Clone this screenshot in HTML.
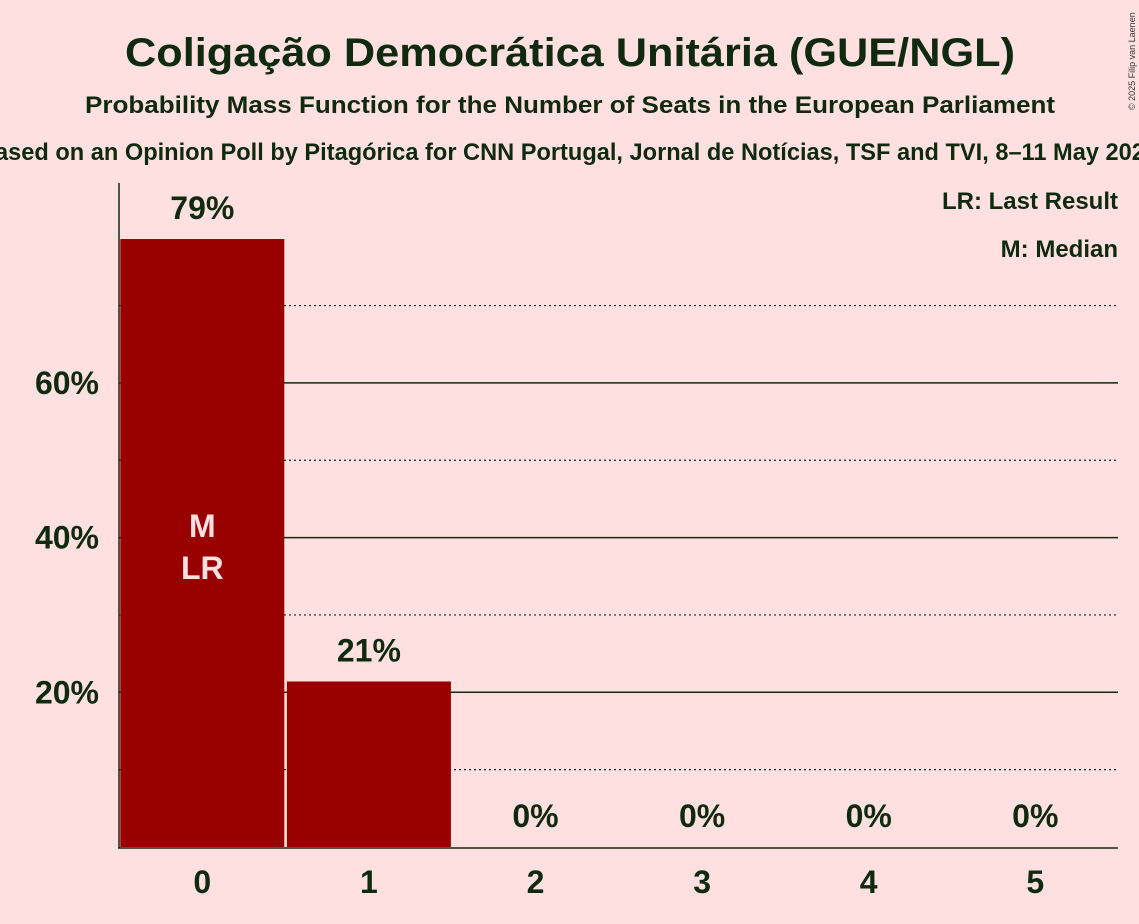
<!DOCTYPE html>
<html><head><meta charset="utf-8"><style>
html,body{margin:0;padding:0;background:#FFE0E0;}
svg{display:block;font-family:"Liberation Sans",sans-serif;font-weight:bold;}
</style></head><body>
<svg id="chart" width="1139" height="924" viewBox="0 0 1139 924">
<rect width="1139" height="924" fill="#FFE0E0"/>
<text x="570" y="66" text-anchor="middle" font-size="40" fill="#0f2a0f" textLength="890" lengthAdjust="spacingAndGlyphs">Coligação Democrática Unitária (GUE/NGL)</text>
<text x="570" y="113" text-anchor="middle" font-size="24" fill="#0f2a0f" textLength="970" lengthAdjust="spacingAndGlyphs">Probability Mass Function for the Number of Seats in the European Parliament</text>
<text x="568" y="160" text-anchor="middle" font-size="24" fill="#0f2a0f" textLength="1180" lengthAdjust="spacingAndGlyphs">Based on an Opinion Poll by Pitagórica for CNN Portugal, Jornal de Notícias, TSF and TVI, 8–11 May 2025</text>
<text x="1135" y="110" font-size="9" font-weight="normal" fill="#333" transform="rotate(-90 1135 110)">© 2025 Filip van Laenen</text>
<g id="grid"></g>
<g id="bars"></g>
<g id="labels"></g>
<line x1="119" y1="183" x2="119" y2="848" stroke="#0f2a0f" stroke-width="1.5"/>
<line x1="118" y1="848" x2="1118" y2="848" stroke="#0f2a0f" stroke-width="1.5"/>
<text x="1118" y="209" text-anchor="end" font-size="24" fill="#0f2a0f">LR: Last Result</text>
<text x="1118" y="257" text-anchor="end" font-size="24" fill="#0f2a0f">M: Median</text>
</svg>
<script>
const categories = [0, 1, 2, 3, 4, 5];
const probabilities = [78.6, 21.4, 0, 0, 0, 0];
const valueLabels = ["79%", "21%", "0%", "0%", "0%", "0%"];
const yTicks = [20, 40, 60];
const yTickLabels = ["20%", "40%", "60%"];
const yMinor = [10, 30, 50, 70];
const medianIndex = 0;
const lastResultIndex = 0;

const NS = "http://www.w3.org/2000/svg";
const y0 = 847, pxPer = 7.735, xLeft = 119, step = 166.6, xRight = 1118;
const y = v => y0 - v * pxPer;
const xc = i => xLeft + step * (i + 0.5);
function mk(tag, attrs, parent, txt) {
  const e = document.createElementNS(NS, tag);
  for (const k in attrs) e.setAttribute(k, attrs[k]);
  if (txt !== undefined) e.textContent = txt;
  document.getElementById(parent).appendChild(e);
  return e;
}
yMinor.forEach(v => {
  const l = mk("line", {x1: xLeft, x2: xRight, y1: y(v), y2: y(v), stroke: "#0f2a0f", "stroke-width": 1.2, "stroke-dasharray": "2,3"}, "grid");
  
  
});
yTicks.forEach((v, i) => {
  const l = mk("line", {x1: xLeft, x2: xRight, y1: y(v), y2: y(v), stroke: "#0f2a0f", "stroke-width": 1.5}, "grid");
  
  
  const t = mk("text", {x: 99, y: y(v) + 11, "text-anchor": "end", "font-size": 32, fill: "#0f2a0f"}, "labels", yTickLabels[i]);
  
  
});
categories.forEach((c, i) => {
  const p = probabilities[i];
  if (p > 0) {
    const r = mk("rect", {x: xc(i) - 82, y: y(p), width: 164, height: y0 - y(p), fill: "#990000"}, "bars");
    
    
  }
  const vl = mk("text", {x: xc(i), y: (p > 0 ? y(p) - 20 : y0 - 20), "text-anchor": "middle", "font-size": 32, fill: "#0f2a0f"}, "labels", valueLabels[i]);
  
  
  const xl = mk("text", {x: xc(i), y: 893, "text-anchor": "middle", "font-size": 32, fill: "#0f2a0f"}, "labels", String(c));
  
  
});
const mid = y(probabilities[medianIndex] / 2);
const m = mk("text", {x: xc(medianIndex), y: mid - 6, "text-anchor": "middle", "font-size": 32, fill: "#FFE0E0"}, "labels", "M");


const lr = mk("text", {x: xc(lastResultIndex), y: mid + 36, "text-anchor": "middle", "font-size": 32, fill: "#FFE0E0"}, "labels", "LR");


</script>
</body></html>
